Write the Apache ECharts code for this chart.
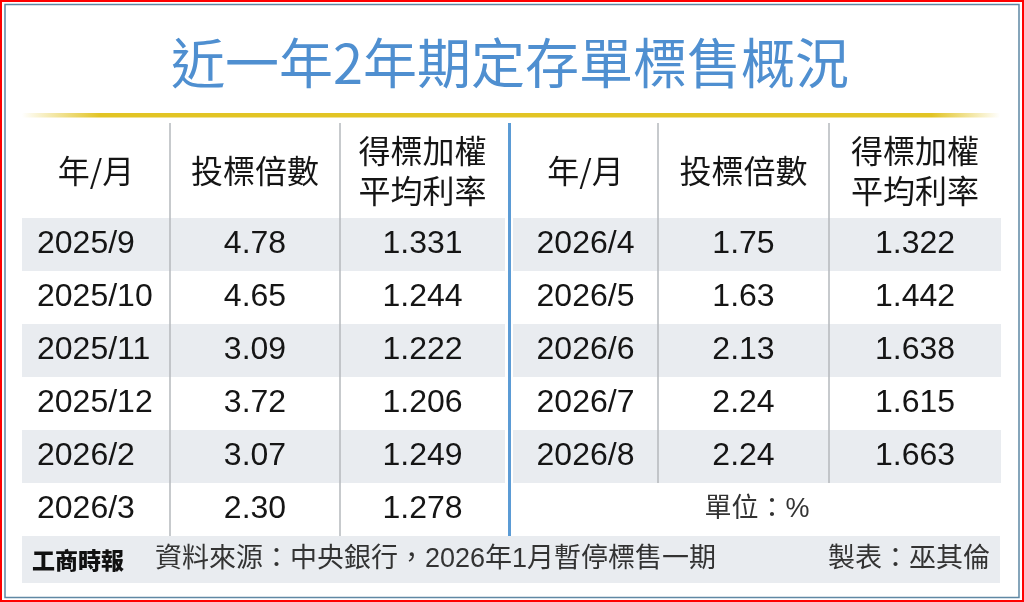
<!DOCTYPE html>
<html><head><meta charset="utf-8">
<script src="https://cdn.jsdelivr.net/npm/echarts@6/dist/echarts.min.js"></script>
<style>html,body{margin:0;padding:0;background:#fff}#c{width:1024px;height:602px}</style>
</head><body><div id="c"></div>
<script>
// ---- data ----
const titleText = '近一年2年期定存單標售概況';
const headers = ['年/月', '投標倍數', '得標加權\n平均利率'];
const leftMonths = ['2025/9', '2025/10', '2025/11', '2025/12', '2026/2', '2026/3'];
const leftRatio = [4.78, 4.65, 3.09, 3.72, 3.07, 2.30];
const leftRate = [1.331, 1.244, 1.222, 1.206, 1.249, 1.278];
const rightMonths = ['2026/4', '2026/5', '2026/6', '2026/7', '2026/8'];
const rightRatio = [1.75, 1.63, 2.13, 2.24, 2.24];
const rightRate = [1.322, 1.442, 1.638, 1.615, 1.663];
const unitNote = '單位：%';
const logoText = '工商時報';
const sourceNote = '資料來源：中央銀行，2026年1月暫停標售一期';
const makerNote = '製表：巫其倫';

// ---- layout / style ----
const CJK = '"Noto Sans CJK TC", "Noto Sans CJK SC", sans-serif';
const NUM = '"Liberation Sans", Arial, "Noto Sans CJK TC", sans-serif';
const TABLE_TOP = 123, HEADER_H = 95, ROW_H = 53, N_ROWS = 6;
const HDR = HEADER_H / ROW_H;
const BAND = '#e9ecf0';
const DIV = '#b4b8bd';

const columns = [
  { x0: 22,  x1: 170,  head: headers[0], cells: leftMonths, align: 'left', div: false, divRows: 6 },
  { x0: 170, x1: 340,  head: headers[1], cells: leftRatio.map(v => v.toFixed(2)), div: true, divRows: 6 },
  { x0: 340, x1: 505,  head: headers[2], cells: leftRate.map(v => v.toFixed(3)), div: true, divRows: 6 },
  { x0: 513, x1: 658,  head: headers[0], cells: rightMonths, div: false, divRows: 5 },
  { x0: 658, x1: 829,  head: headers[1], cells: rightRatio.map(v => v.toFixed(2)), div: true, divRows: 5 },
  { x0: 829, x1: 1001, head: headers[2], cells: rightRate.map(v => v.toFixed(3)), div: true, divRows: 5 }
];

const seriesItems = columns.map(col => {
  const items = [{ value: [0, -HDR, 0], text: col.head, head: true, row: -1 }];
  col.cells.forEach((t, r) => items.push({ value: [0, r, r + 1], text: t, head: false, row: r }));
  return items;
});

function renderCell(params, api) {
  const col = columns[params.seriesIndex];
  const it = seriesItems[params.seriesIndex][params.dataIndex];
  const y0 = api.value(1), y1 = api.value(2);
  const p0 = api.coord([0, y0]);
  const p1 = api.coord([1, y1]);
  const children = [];
  if (!it.head && it.row % 2 === 0) {
    children.push({ type: 'rect', shape: { x: p0[0], y: p0[1], width: p1[0] - p0[0], height: p1[1] - p0[1] },
      style: { fill: BAND } });
  }
  if (col.div && (it.head || it.row < col.divRows)) {
    children.push({ type: 'rect', shape: { x: p0[0] - 0.75, y: p0[1], width: 1.5, height: p1[1] - p0[1] },
      style: { fill: DIV } });
  }
  const left = col.align === 'left' && !it.head;
  children.push({ type: 'text', style: {
    text: it.text,
    x: left ? p0[0] + 15 : (p0[0] + p1[0]) / 2,
    y: (p0[1] + p1[1]) / 2,
    align: left ? 'left' : 'center',
    verticalAlign: 'middle',
    font: it.head ? ('32px ' + CJK) : ('32px ' + NUM),
    lineHeight: 40,
    fill: '#151515'
  } });
  return { type: 'group', children };
}

const grids = [], xAxes = [], yAxes = [], series = [];
columns.forEach((col, i) => {
  grids.push({ left: col.x0, top: TABLE_TOP, width: col.x1 - col.x0, height: HEADER_H + ROW_H * N_ROWS });
  xAxes.push({ type: 'value', gridIndex: i, min: 0, max: 1, show: false });
  yAxes.push({ type: 'value', gridIndex: i, min: -HDR, max: N_ROWS, inverse: true, show: false });
  series.push({ type: 'custom', xAxisIndex: i, yAxisIndex: i, renderItem: renderCell,
    encode: { x: 0, y: [1, 2] }, data: seriesItems[i].map(d => d.value), silent: true, animation: false });
});

const rowsBottom = TABLE_TOP + HEADER_H + ROW_H * N_ROWS;
const chart = echarts.init(document.getElementById('c'), null, { renderer: 'canvas' });
chart.setOption({
  backgroundColor: '#ffffff',
  animation: false,
  grid: grids, xAxis: xAxes, yAxis: yAxes, series,
  graphic: [
    { type: 'rect', shape: { x: 1, y: 1, width: 1022, height: 600 }, style: { fill: 'none', stroke: '#ff0000', lineWidth: 2 } },
    { type: 'rect', shape: { x: 5, y: 4.5, width: 1014, height: 593 }, style: { fill: 'none', stroke: '#5f88a4', lineWidth: 1.5 } },
    { type: 'text', x: 510, y: 63, style: { text: titleText, align: 'center', verticalAlign: 'middle',
      font: 'normal 54px ' + CJK, fill: '#4f8fd0' } },
    { type: 'rect', shape: { x: 22, y: 113, width: 978, height: 4.5 }, style: {
      fill: { type: 'linear', x: 0, y: 0, x2: 1, y2: 0, colorStops: [
        { offset: 0, color: 'rgba(226,196,36,0)' }, { offset: 0.08, color: '#e2c424' },
        { offset: 0.93, color: '#e2c424' }, { offset: 1, color: 'rgba(226,196,36,0)' }] } } },
    { type: 'rect', shape: { x: 508, y: TABLE_TOP, width: 3, height: rowsBottom - TABLE_TOP }, style: { fill: '#5b9bd5' } },
    { type: 'text', x: 757, y: TABLE_TOP + HEADER_H + ROW_H * 5.5, style: { text: unitNote, align: 'center',
      verticalAlign: 'middle', font: '27px ' + NUM, fill: '#333' } },
    { type: 'rect', shape: { x: 22, y: rowsBottom, width: 978, height: 47 }, style: { fill: BAND } },
    { type: 'text', x: 32, y: 560, style: { text: logoText, align: 'left', verticalAlign: 'middle',
      font: '900 23px ' + CJK, fill: '#111' } },
    { type: 'text', x: 155, y: 560, style: { text: sourceNote, align: 'left', verticalAlign: 'middle',
      font: '27px ' + NUM, fill: '#333' } },
    { type: 'text', x: 990, y: 560, style: { text: makerNote, align: 'right', verticalAlign: 'middle',
      font: '27px ' + NUM, fill: '#333' } }
  ]
});
</script></body></html>
